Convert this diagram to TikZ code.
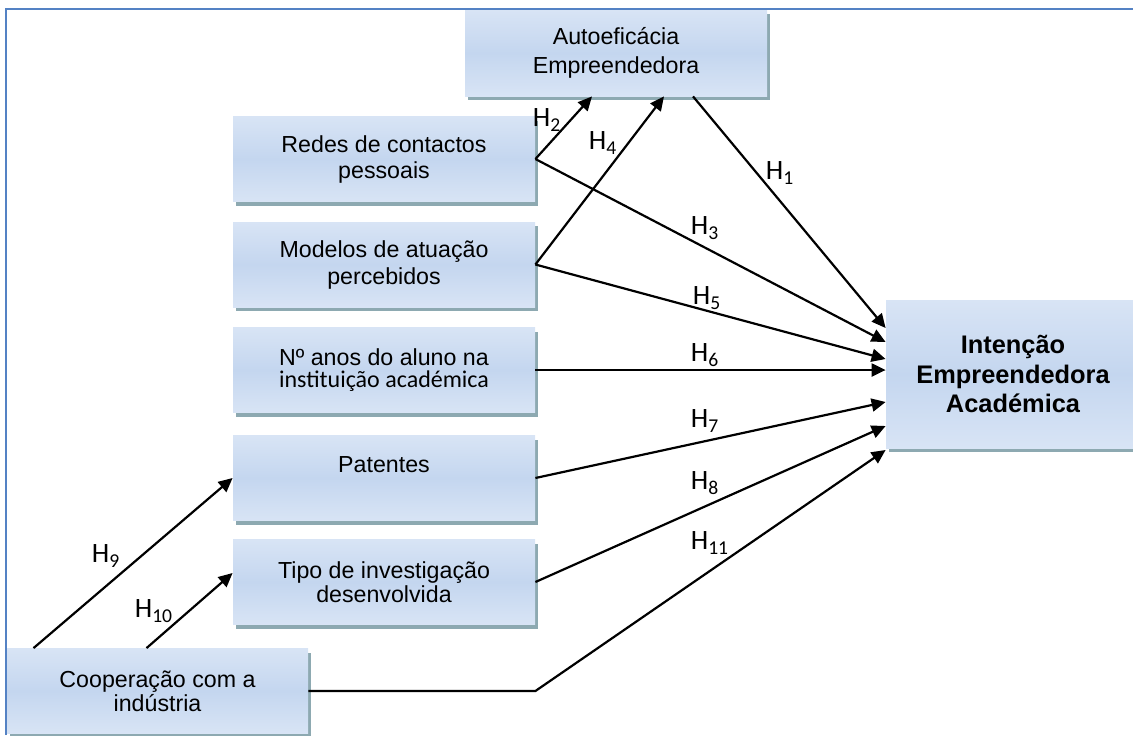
\documentclass[tikz,border=0pt]{standalone}
\usepackage{fontspec}
\setmainfont{Liberation Sans}
\newfontfamily\calibri{Carlito}
\usetikzlibrary{shadows}
\usetikzlibrary{arrows.meta}
\definecolor{boxtop}{RGB}{216,228,245}
\definecolor{boxmid}{RGB}{196,214,239}
\definecolor{boxshade}{RGB}{141,169,177}
\definecolor{framecol}{RGB}{84,130,196}
\tikzset{
    factor/.style = {rectangle, align=center, top color=boxtop, bottom color=boxtop, middle color=boxmid, minimum width=151pt, minimum height=42.5pt, inner sep=0pt, font=\fontsize{11.6}{13}\selectfont, drop shadow={shadow xshift=1.5pt, shadow yshift=-2pt, fill=boxshade, opacity=1}},
    hlab/.style = {inner sep=0pt, font=\calibri\fontsize{14}{16}\selectfont},
}

\begin{document}
\begin{tikzpicture}[
    x=0.5pt, y=-0.5pt,
    seta/.style = {-{Triangle[length=7pt,width=6.5pt]}, line width=1.1pt}
]
\useasboundingbox (0,0) rectangle (1133,735);
\clip (0,0) rectangle (1133,735);
\node[factor, minimum height=43pt, font=\fontsize{11.6}{14.5}\selectfont] (autoef) at (616,53) {Autoeficácia\\Empreendedora};
\node[factor] (redes) at (384,159) {Redes de contactos\\pessoais};
\node[factor, font=\fontsize{11.6}{13.5}\selectfont] (modelos) at (384,264.5) {Modelos de atuação\\percebidos};
\node[factor, font=\fontsize{11.6}{11}\selectfont] (anos) at (384,370) {Nº anos do aluno na\\{\calibri\fontsize{12}{12}\selectfont instituição académica}};
\node[factor] (patentes) at (384,478) {Patentes\\\mbox{}};
\node[factor, font=\fontsize{11.6}{10.5}\selectfont] (tipo) at (384,582) {Tipo de investigação\\desenvolvida};
\node[factor, minimum width=150.5pt, font=\fontsize{11.6}{10.5}\selectfont] (coop) at (157.5,691) {Cooperação com a\\indústria};
\node[factor, minimum width=127pt, minimum height=74pt, font=\bfseries\fontsize{12.7}{14.8}\selectfont] (intencao) at (1013,374) {Intenção\\Empreendedora\\Académica};

\draw[seta] ([xshift=38.5pt]autoef.south) -- ([yshift=23pt]intencao.west);
\draw[seta] (redes.east) -- ([xshift=-12pt]autoef.south);
\draw[seta] (redes.east) -- ([yshift=16pt]intencao.west);
\draw[seta] (modelos.east) -- ([xshift=24pt]autoef.south);
\draw[seta] (modelos.east) -- ([yshift=7.5pt]intencao.west);
\draw[seta] (anos.east) -- (anos.east -| intencao.west);
\draw[seta] (patentes.east) -- ([yshift=-14pt]intencao.west);
\draw[seta] (tipo.east) -- ([yshift=-26pt]intencao.west);
\draw[seta] (coop.east) -- (coop.east -| tipo.east) -- ([yshift=-38pt]intencao.west);
\draw[seta] ([xshift=-62pt]coop.north) -- (patentes.west);
\draw[seta] ([xshift=-5.5pt]coop.north) -- ([yshift=4.5pt]tipo.west);

\node[hlab] (h1) at (780,173) {H\textsubscript{1}};
\node[hlab] (h2) at (547,120) {H\textsubscript{2}};
\node[hlab] (h3) at (705,228) {H\textsubscript{3}};
\node[hlab] (h4) at (603,143) {H\textsubscript{4}};
\node[hlab] (h5) at (707,298) {H\textsubscript{5}};
\node[hlab] (h6) at (705,355) {H\textsubscript{6}};
\node[hlab] (h7) at (705,421) {H\textsubscript{7}};
\node[hlab] (h8) at (705,483) {H\textsubscript{8}};
\node[hlab] (h9) at (106,556) {H\textsubscript{9}};
\node[hlab] (h10) at (154,611) {H\textsubscript{10}};
\node[hlab] (h11) at (710,543) {H\textsubscript{11}};

\draw[framecol, line width=1pt] (6,735) -- (6,9) -- (1133,9);
\end{tikzpicture}
\end{document}
